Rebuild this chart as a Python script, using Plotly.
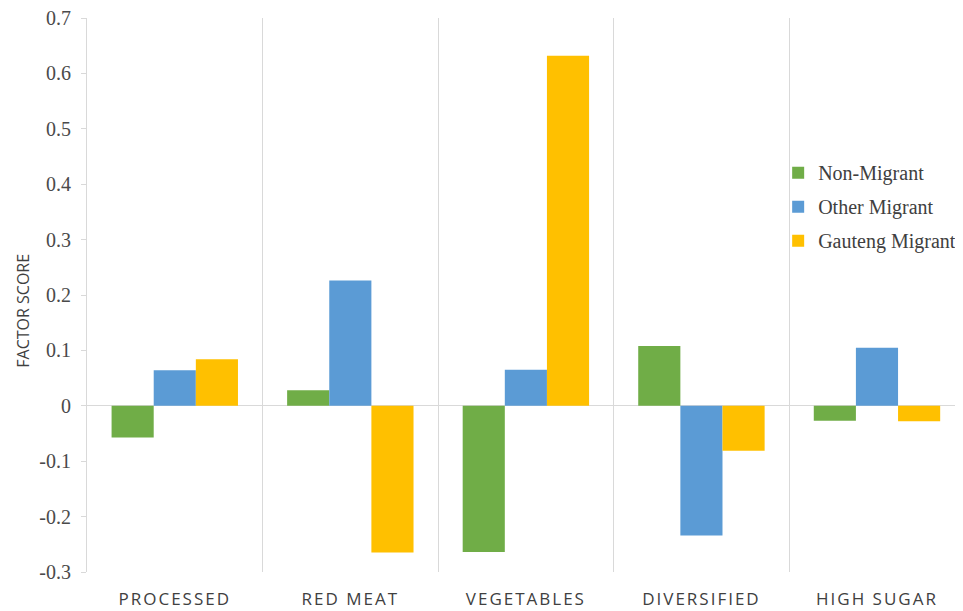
import plotly.graph_objects as go

categories = ["PROCESSED", "RED MEAT", "VEGETABLES", "DIVERSIFIED", "HIGH SUGAR"]
series_names = ["Non-Migrant", "Other Migrant", "Gauteng Migrant"]
non_migrant = [-0.057, 0.028, -0.264, 0.108, -0.027]
other_migrant = [0.064, 0.226, 0.065, -0.234, 0.105]
gauteng_migrant = [0.084, -0.265, 0.632, -0.081, -0.028]
colors = ["#70AD47", "#5B9BD5", "#FFC000"]
y_ticks = [-0.3, -0.2, -0.1, 0, 0.1, 0.2, 0.3, 0.4, 0.5, 0.6, 0.7]
y_tick_labels = ["-0.3", "-0.2", "-0.1", "0", "0.1", "0.2", "0.3", "0.4", "0.5", "0.6", "0.7"]
y_title = "FACTOR SCORE"

fig = go.Figure()
for name, vals, col in zip(series_names, [non_migrant, other_migrant, gauteng_migrant], colors):
    fig.add_trace(go.Bar(x=categories, y=vals, name=name, marker_color=col,
                         marker_line_width=0, legendgroup=name))

fig.update_layout(
    width=955, height=603,
    margin=dict(l=79, r=0, t=10, b=39),
    plot_bgcolor="white", paper_bgcolor="white",
    barmode="group", bargap=0.28, bargroupgap=0,
    font=dict(family="Liberation Serif", color="#404040"),
    legend=dict(x=0.789, y=0.756, xanchor="left", yanchor="top",
                font=dict(family="Liberation Serif", size=20, color="#404040"),
                tracegroupgap=5, traceorder="grouped",
                bgcolor="rgba(0,0,0,0)"),
    xaxis=dict(
        tickson="boundaries", showgrid=True, gridcolor="#D9D9D9", gridwidth=1,
        ticks="", showline=False, zeroline=False, automargin=False,
        tickfont=dict(family="Open Sans", size=17, color="#404040"),
        ticklabelstandoff=15,
        range=[-0.5, 4.49],
    ),
    yaxis=dict(
        range=[-0.3, 0.7], tickvals=y_ticks, ticktext=y_tick_labels,
        showgrid=False, zeroline=True, zerolinecolor="#D9D9D9", zerolinewidth=1,
        showline=True, linecolor="#D9D9D9", automargin=False,
        ticks="outside", ticklen=5, tickcolor="#D9D9D9",
        ticklabelstandoff=6, ticklabeloverflow="allow",
        tickfont=dict(family="Liberation Serif", size=20, color="#4a4a4a"),
    ),
    annotations=[dict(text=y_title, textangle=-90, showarrow=False,
                      xref="paper", yref="paper", x=-0.074, y=0.472,
                      xanchor="center", yanchor="middle", borderpad=0,
                      font=dict(family="Open Sans", size=16, color="#404040"))],
)

post = """
function ls(){document.querySelectorAll('.xtick text').forEach(function(t){t.style.letterSpacing='2px';});}
ls();
var gd=document.getElementById('{plot_id}');
if(gd && gd.on){gd.on('plotly_afterplot', ls);}
"""
fig.write_html("out.html", post_script=post)
